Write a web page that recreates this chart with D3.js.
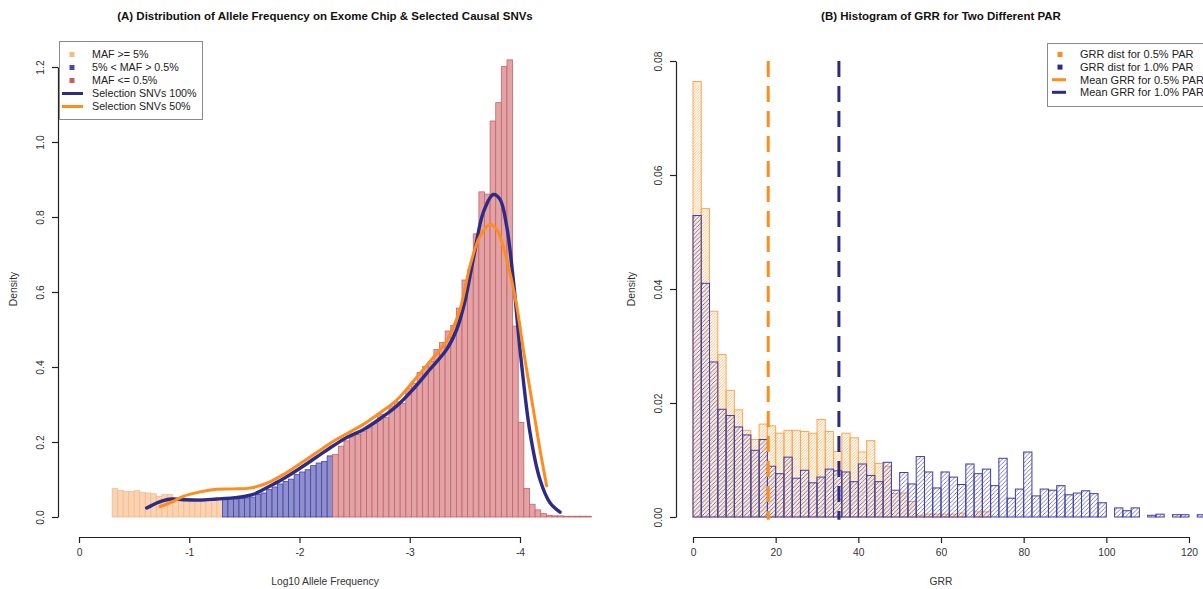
<!DOCTYPE html>
<html><head><meta charset="utf-8">
<script src="https://cdn.jsdelivr.net/npm/d3@7"></script>
<style>body{margin:0;background:#fff} svg{display:block;font-family:"Liberation Sans",Arial,Helvetica,sans-serif}</style>
</head><body><svg id="c" width="1203" height="589"></svg>
<script>
// ---------- Panel A data ----------
const commonStart = -0.301, commonWidth = 0.05;   // MAF >= 5%
const commonDensity = [0.0756,0.071,0.0684,0.068,0.070,0.0658,0.064,0.062,0.055,0.0596,0.0596,0.052,0.050,0.049,0.049,0.049,0.048,0.049,0.049,0.049];
const lowStart = -1.301, lowWidth = 0.05;         // 5% < MAF > 0.5%
const lowDensity = [0.048,0.049,0.049,0.050,0.051,0.053,0.060,0.064,0.073,0.080,0.088,0.095,0.101,0.113,0.120,0.126,0.137,0.144,0.148,0.163];
const rareStart = -2.301, rareWidth = 0.051;      // MAF <= 0.5%
const rareDensity = [0.167,0.189,0.203,0.214,0.220,0.229,0.238,0.250,0.274,0.265,0.296,0.307,0.303,0.342,0.356,0.385,0.401,0.415,0.447,0.465,0.496,0.511,0.557,0.632,0.659,0.755,0.867,0.861,1.056,1.105,1.201,1.219,0.509,0.252,0.076,0.034,0.019,0.009,0.004,0.003,0.003,0.002,0.002,0.002,0.002,0.002];
const sel100 = [[-0.614,0.024],[-0.719,0.039],[-0.795,0.046],[-0.841,0.048],[-0.946,0.046],[-1.098,0.045],[-1.249,0.048],[-1.397,0.051],[-1.521,0.056],[-1.596,0.062],[-1.703,0.078],[-1.853,0.102],[-2.005,0.130],[-2.156,0.160],[-2.307,0.190],[-2.428,0.212],[-2.579,0.233],[-2.730,0.262],[-2.882,0.296],[-3.032,0.341],[-3.184,0.394],[-3.335,0.447],[-3.426,0.500],[-3.496,0.570],[-3.576,0.687],[-3.667,0.812],[-3.758,0.860],[-3.819,0.847],[-3.879,0.776],[-3.939,0.634],[-4.000,0.447],[-4.091,0.225],[-4.181,0.100],[-4.272,0.038],[-4.363,0.013]];
const sel50 = [[-0.735,0.028],[-0.841,0.040],[-0.946,0.055],[-1.098,0.067],[-1.249,0.074],[-1.400,0.075],[-1.551,0.077],[-1.703,0.090],[-1.853,0.113],[-2.005,0.142],[-2.156,0.172],[-2.307,0.202],[-2.428,0.222],[-2.579,0.247],[-2.730,0.278],[-2.882,0.312],[-3.032,0.362],[-3.184,0.415],[-3.335,0.470],[-3.456,0.554],[-3.546,0.669],[-3.637,0.749],[-3.728,0.780],[-3.789,0.767],[-3.879,0.687],[-3.970,0.563],[-4.030,0.447],[-4.121,0.287],[-4.181,0.180],[-4.242,0.083]];
const xTicksA = [0,-1,-2,-3,-4];
const yTicksA = [0,0.2,0.4,0.6,0.8,1.0,1.2];
const legendA = ["MAF >= 5%","5% < MAF > 0.5%","MAF <= 0.5%","Selection SNVs 100%","Selection SNVs 50%"];

// ---------- Panel B data ----------
const grrBinWidth = 2;
const grr05 = [0.0764,0.0541,0.0361,0.0285,0.0222,0.0188,0.0152,0.0136,0.0163,0.016,0.0147,0.0152,0.0152,0.015,0.0147,0.0171,0.015,0.0115,0.0147,0.0139,0.0114,0.0134,0.0094,0.0089,0.0041,0.0042,0.0027,0.0003,0.0005,0.0005,0.0005,0.0005,0.0007,0,0.0009,0.0009];
const grr10 = [0.0529,0.041,0.0272,0.0189,0.0178,0.0158,0.0144,0.0117,0.0136,0.0089,0.0076,0.0105,0.0068,0.0082,0.006,0.007,0.0084,0.0081,0.0079,0.0062,0.0093,0.0073,0.0062,0.0096,0.0047,0.0078,0.0058,0.0106,0.0079,0.0051,0.0079,0.007,0.0057,0.0093,0.0076,0.0084,0.0055,0.0103,0.0033,0.0049,0.0114,0.0037,0.0049,0.0047,0.0055,0.0039,0.0042,0.0046,0.0041,0.0025,0,0.0016,0.0011,0.0016,0,0.0003,0.0005,0,0.0004,0.0004,0,0.0004];
const meanGrr05 = 18.2, meanGrr10 = 35.3;
const xTicksB = [0,20,40,60,80,100,120];
const yTicksB = [0,0.02,0.04,0.06,0.08];
const legendB = ["GRR dist for 0.5% PAR","GRR dist for 1.0% PAR","Mean GRR for 0.5% PAR","Mean GRR for 1.0% PAR"];

// ---------- styles ----------
const C = {
  orFill:"#FAD3B3", orEdge:"#F4BA8E", orKey:"#F8B786",
  blFill:"#8F8FCD", blEdge:"#4343A4", blKey:"#4949A9",
  rdFill:"#E0A3A6", rdEdge:"#CD6065", rdKey:"#CC5C61",
  navy:"#2C2C88", orange:"#FF8C1C",
  hatchOr:"#FFAE5E", hatchBl:"#4747AC", edgeOr:"#FFA650", edgeBl:"#3E3EA8"
};
const svg = d3.select("#c");
const font = "Liberation Sans, Arial, Helvetica, sans-serif";

// hatch patterns
const defs = svg.append("defs");
function hatch(id, w, color, sw){
  const p = defs.append("pattern").attr("id",id).attr("patternUnits","userSpaceOnUse")
    .attr("width",w).attr("height",w);
  p.append("path").attr("d",`M0,${w} L${w},0 M${-w/2},${w/2} L${w/2},${-w/2} M${w/2},${w*1.5} L${w*1.5},${w/2}`)
    .attr("stroke",color).attr("stroke-width",sw).attr("fill","none");
}
hatch("hOr",2.7,C.hatchOr,0.75);
hatch("hBl",4.2,C.hatchBl,0.7);

// ---------- Panel A ----------
const xA = d3.scaleLinear().domain([0,-4]).range([79,520]);
const yA = d3.scaleLinear().domain([0,1.2]).range([517,67]);
function bins(start,width,vals){ return vals.map((d,i)=>({x0:start-width*i, x1:start-width*(i+1), d})); }
const gA = svg.append("g");
[[bins(commonStart,commonWidth,commonDensity),C.orFill,C.orEdge],
 [bins(lowStart,lowWidth,lowDensity),C.blFill,C.blEdge],
 [bins(rareStart,rareWidth,rareDensity),C.rdFill,C.rdEdge]].forEach(([data,fill,edge])=>{
  gA.append("g").selectAll("rect").data(data).join("rect")
    .attr("x",b=>Math.min(xA(b.x0),xA(b.x1))).attr("width",b=>Math.abs(xA(b.x1)-xA(b.x0)))
    .attr("y",b=>yA(b.d)).attr("height",b=>yA(0)-yA(b.d))
    .attr("fill",fill).attr("stroke",edge).attr("stroke-width",0.8);
});
const lineA = d3.line().x(d=>xA(d[0])).y(d=>yA(d[1])).curve(d3.curveCatmullRom.alpha(0.5));
gA.append("path").attr("d",lineA(sel100)).attr("fill","none").attr("stroke",C.navy).attr("stroke-width",3.4).attr("stroke-linecap","round");
gA.append("path").attr("d",lineA(sel50)).attr("fill","none").attr("stroke",C.orange).attr("stroke-width",3).attr("stroke-linecap","round");

function styleAxis(g){
  g.select(".domain").attr("stroke","#222").attr("stroke-width",1.2);
  g.selectAll(".tick line").attr("stroke","#222").attr("stroke-width",1.2);
  g.selectAll("text").attr("fill","#333").attr("font-size",10.3).attr("font-family",font);
}
const axA = svg.append("g").attr("transform","translate(0,537)")
  .call(d3.axisBottom(xA).tickValues(xTicksA).tickSize(6).tickSizeOuter(0).tickFormat(d=>String(d)));
axA.selectAll("text").attr("y",15).attr("dy","0.35em");
styleAxis(axA);
const ayA = svg.append("g").attr("transform","translate(58,0)")
  .call(d3.axisLeft(yA).tickValues(yTicksA).tickSize(6).tickSizeOuter(0).tickFormat(d3.format(".1f")));
ayA.selectAll("text").attr("transform","rotate(-90)").attr("x",0).attr("y",-14).attr("dy",0).attr("text-anchor","middle");
styleAxis(ayA);

// legend A
const lgA = svg.append("g");
lgA.append("rect").attr("x",59.5).attr("y",41.5).attr("width",143).attr("height",78).attr("fill","#fff").attr("stroke","#8a8a8a").attr("stroke-width",1);
const keysA = [C.orKey,C.blKey,C.rdKey];
legendA.forEach((t,i)=>{
  const y = 54.5 + 13*i;
  if(i<3) lgA.append("rect").attr("x",69.5).attr("y",y-2.5).attr("width",5).attr("height",5).attr("fill",keysA[i]);
  else lgA.append("line").attr("x1",62).attr("x2",83).attr("y1",y).attr("y2",y).attr("stroke",i===3?C.navy:C.orange).attr("stroke-width",3);
  lgA.append("text").attr("x",92).attr("y",y).attr("dy","0.36em").attr("font-size",10.7).attr("fill","#222").attr("font-family",font).text(t);
});

// titles A
svg.append("text").attr("x",325).attr("y",20).attr("text-anchor","middle").attr("font-weight","bold").attr("font-size",11.5).attr("fill","#111").attr("font-family",font)
  .text("(A) Distribution of Allele Frequency on Exome Chip & Selected Causal SNVs");
svg.append("text").attr("x",325).attr("y",585).attr("text-anchor","middle").attr("font-size",10.3).attr("fill","#333").attr("font-family",font).text("Log10 Allele Frequency");
svg.append("text").attr("transform","translate(17,289) rotate(-90)").attr("text-anchor","middle").attr("font-size",10.3).attr("fill","#333").attr("font-family",font).text("Density");

// ---------- Panel B ----------
const xB = d3.scaleLinear().domain([0,120]).range([693,1189]);
const yB = d3.scaleLinear().domain([0,0.08]).range([517,61]);
const gB = svg.append("g");
[[grr05,"url(#hOr)",C.edgeOr],[grr10,"url(#hBl)",C.edgeBl]].forEach(([vals,fill,edge])=>{
  const data = vals.map((d,i)=>({x0:i*grrBinWidth,x1:(i+1)*grrBinWidth,d}));
  gB.append("g").selectAll("rect").data(data).join("rect")
    .attr("x",b=>xB(b.x0)).attr("width",b=>xB(b.x1)-xB(b.x0))
    .attr("y",b=>yB(b.d)).attr("height",b=>yB(0)-yB(b.d))
    .attr("fill",fill).attr("stroke",edge).attr("stroke-width",1);
});
[[meanGrr05,C.orange],[meanGrr10,C.navy]].forEach(([m,col])=>{
  gB.append("line").attr("x1",xB(m)).attr("x2",xB(m)).attr("y1",yB(0.08)).attr("y2",yB(-0.0005))
    .attr("stroke",col).attr("stroke-width",3).attr("stroke-dasharray","16,9");
});
const axB = svg.append("g").attr("transform","translate(0,537)")
  .call(d3.axisBottom(xB).tickValues(xTicksB).tickSize(6).tickSizeOuter(0).tickFormat(d=>String(d)));
axB.selectAll("text").attr("y",15).attr("dy","0.35em");
styleAxis(axB);
const ayB = svg.append("g").attr("transform","translate(676,0)")
  .call(d3.axisLeft(yB).tickValues(yTicksB).tickSize(6).tickSizeOuter(0).tickFormat(d3.format(".2f")));
ayB.selectAll("text").attr("transform","rotate(-90)").attr("x",0).attr("y",-14).attr("dy",0).attr("text-anchor","middle");
styleAxis(ayB);

const lgB = svg.append("g");
lgB.append("rect").attr("x",1047.5).attr("y",43.5).attr("width",200).attr("height",63).attr("fill","#fff").attr("stroke","#8a8a8a").attr("stroke-width",1);
legendB.forEach((t,i)=>{
  const y = 54.5 + 12.6*i;
  if(i<2) lgB.append("rect").attr("x",1057.5).attr("y",y-2.5).attr("width",5).attr("height",5).attr("fill",i===0?C.orange:C.navy);
  else lgB.append("line").attr("x1",1052).attr("x2",1066).attr("y1",y).attr("y2",y).attr("stroke",i===2?C.orange:C.navy).attr("stroke-width",3);
  lgB.append("text").attr("x",1080).attr("y",y).attr("dy","0.36em").attr("font-size",11).attr("fill","#222").attr("font-family",font).text(t);
});

svg.append("text").attr("x",941).attr("y",20).attr("text-anchor","middle").attr("font-weight","bold").attr("font-size",11.5).attr("fill","#111").attr("font-family",font)
  .text("(B) Histogram of GRR for Two Different PAR");
svg.append("text").attr("x",941).attr("y",585).attr("text-anchor","middle").attr("font-size",10.3).attr("fill","#333").attr("font-family",font).text("GRR");
svg.append("text").attr("transform","translate(635,289) rotate(-90)").attr("text-anchor","middle").attr("font-size",10.3).attr("fill","#333").attr("font-family",font).text("Density");
</script></body></html>
